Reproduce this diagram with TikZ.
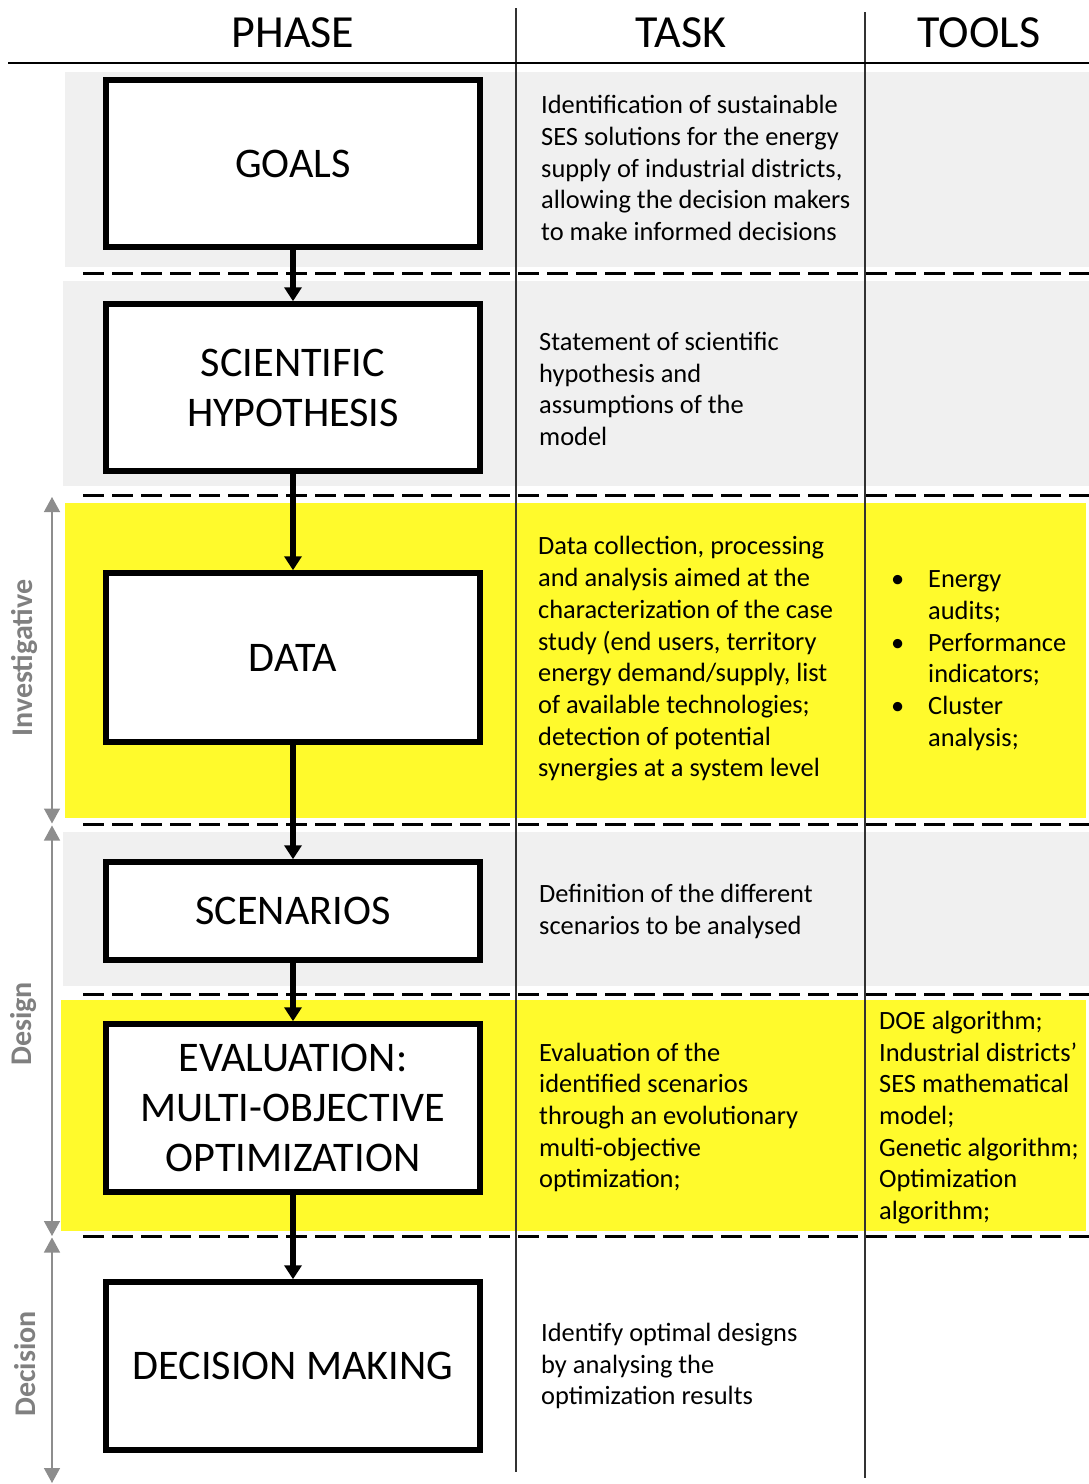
\documentclass[tikz,border=0pt]{standalone}
\usepackage{fontspec}
\setmainfont{Carlito}
\usetikzlibrary{arrows.meta}

\definecolor{bandgray}{RGB}{240,240,240}
\definecolor{bandyellow}{RGB}{255,250,44}
\definecolor{labelgray}{RGB}{128,128,128}
\definecolor{rulegray}{RGB}{50,50,50}

\tikzset{
  phasebox/.style={draw=black, fill=white, line width=5.5pt, minimum width=374pt,
    inner sep=0pt, align=center, font=\fontsize{42.2}{50}\selectfont},
  flowarrow/.style={line width=6pt, -{Triangle[width=17pt,length=14pt]}},
  spanarrow/.style={draw=labelgray!90, line width=1.4pt,
    {Triangle[width=16pt,length=15pt]}-{Triangle[width=16pt,length=15pt]}},
  spanlabel/.style={rotate=90, text=labelgray, font=\fontsize{30}{36}\selectfont\bfseries},
  tasktext/.style={anchor=west, align=left, inner sep=0pt,
    font=\fontsize{26.4}{31.7}\selectfont},
  header/.style={font=\fontsize{46}{54}\selectfont},
  sepline/.style={line width=3pt, dash pattern=on 21.3pt off 7.7pt},
  colrule/.style={draw=rulegray, line width=1.5pt},
}

\begin{document}
\begin{tikzpicture}[x=1pt, y=-1pt]
\useasboundingbox (0,0) rectangle (1089,1484);

% background bands
\fill[bandgray]   (65,72)    rectangle (1089,267);
\fill[bandgray]   (63,281)   rectangle (1089,486);
\fill[bandyellow] (65,503)   rectangle (1086,818);
\fill[bandgray]   (63,832)   rectangle (1089,986);
\fill[bandyellow] (61,1000)  rectangle (1086,1231);

% dashed separators between phases
\foreach \yy in {273.5,495.5,824,994.5,1236.5}
  \draw[sepline] (83,\yy) -- (1089,\yy);

% column rules and header rule
\draw[colrule] (516,8) -- (516,1472);
\draw[colrule] (865,12) -- (865,1478);
\draw[draw=black, line width=1.5pt] (8,63) -- (1089,63);

% headers
\node[header] (hphase) at (293,33) {PHASE};
\node[header] (htask)  at (681,33) {TASK};
\node[header] (htools) at (979,33) {TOOLS};

% phase boxes
\node[phasebox, minimum height=167pt] (goals) at (293,163.5) {GOALS};
\node[phasebox, minimum height=167pt] (hyp)   at (293,387.5) {SCIENTIFIC\\HYPOTHESIS};
\node[phasebox, minimum height=169pt] (data)  at (293,657.5) {DATA};
\node[phasebox, minimum height=98pt]  (scen)  at (293,911)   {SCENARIOS};
\node[phasebox, minimum height=168pt] (eval)  at (293,1108)  {EVALUATION:\\MULTI-OBJECTIVE\\OPTIMIZATION};
\node[phasebox, minimum height=168pt] (dec)   at (293,1366)  {DECISION MAKING};

% flow arrows
\draw[flowarrow] (goals.south) -- (hyp.north);
\draw[flowarrow] (hyp.south)   -- (data.north);
\draw[flowarrow] (data.south)  -- (scen.north);
\draw[flowarrow] (scen.south)  -- (eval.north);
\draw[flowarrow] (eval.south)  -- (dec.north);

% span arrows on the left
\coordinate (invtop) at (52,497);
\coordinate (invbot) at (52,823.5);
\coordinate (destop) at (52,825.5);
\coordinate (desbot) at (52,1236);
\coordinate (dectop) at (52,1237.5);
\coordinate (decbot) at (52,1483);
\draw[spanarrow] (invtop) -- (invbot);
\draw[spanarrow] (destop) -- (desbot);
\draw[spanarrow] (dectop) -- (decbot);
\node[spanlabel] (linv) at (24,658)  {Investigative};
\node[spanlabel] (ldes) at (24,1024) {Design};
\node[spanlabel] (ldec) at (25,1364) {Decision};

% task column
\node[tasktext] (tgoals) at (541,168) {Identification of sustainable\\SES solutions for the energy\\supply of industrial districts,\\allowing the decision makers\\to make informed decisions};
\node[tasktext] (thyp) at (539,389) {Statement of scientific\\hypothesis and\\assumptions of the\\model};
\node[tasktext] (tdata) at (538,659) {Data collection, processing\\and analysis aimed at the\\characterization of the case\\study (end users, territory\\energy demand/supply, list\\of available technologies;\\detection of potential\\synergies at a system level};
\node[tasktext] (tscen) at (539,911.5) {Definition of the different\\scenarios to be analysed};
\node[tasktext] (teval) at (539,1117.5) {Evaluation of the\\identified scenarios\\through an evolutionary\\multi-objective\\optimization;};
\node[tasktext] (tdec) at (541,1366) {Identify optimal designs\\by analysing the\\optimization results};

% tools column
\node[tasktext] (odata) at (891,660.5) {\makebox[37pt][l]{\textbullet}Energy\\\hspace*{37pt}audits;\\\makebox[37pt][l]{\textbullet}Performance\\\hspace*{37pt}indicators;\\\makebox[37pt][l]{\textbullet}Cluster\\\hspace*{37pt}analysis;};
\node[tasktext] (oeval) at (879,1117.5) {DOE algorithm;\\Industrial districts’\\SES mathematical\\model;\\Genetic algorithm;\\Optimization\\algorithm;};
\end{tikzpicture}
\end{document}
